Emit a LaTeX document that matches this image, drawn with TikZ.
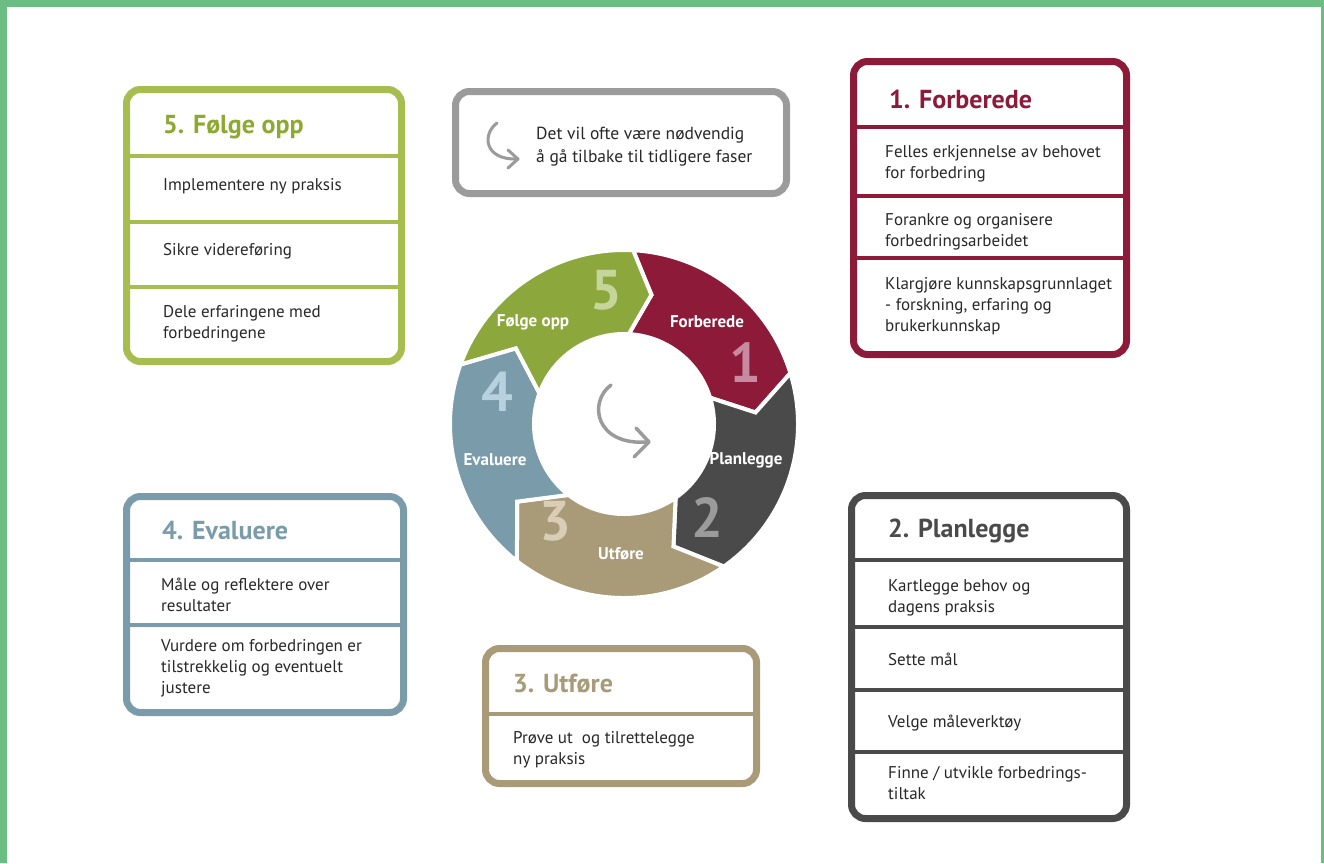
\documentclass[tikz,border=0pt]{standalone}
\usepackage{fontspec}
\setmainfont{PT Sans}
\usetikzlibrary{calc}
\definecolor{framegreen}{RGB}{108,189,131}
\definecolor{olivebox}{RGB}{168,189,80}
\definecolor{olivetext}{RGB}{140,170,50}
\definecolor{olivering}{RGB}{140,168,60}
\definecolor{crimson}{RGB}{140,26,56}
\definecolor{darkgrey}{RGB}{74,74,74}
\definecolor{bluegrey}{RGB}{122,155,170}
\definecolor{tan}{RGB}{169,155,120}
\definecolor{lightgrey}{RGB}{155,155,155}
\definecolor{textgrey}{RGB}{40,40,40}
\definecolor{num1}{RGB}{200,138,160}
\definecolor{num2}{RGB}{155,155,155}
\definecolor{num3}{RGB}{217,205,181}
\definecolor{num4}{RGB}{183,210,222}
\definecolor{num5}{RGB}{198,213,154}
\tikzset{
  panel/.style={draw=#1, line width=7pt, rounded corners=14pt, fill=white, inner sep=0pt},
  divline/.style={draw=#1, line width=3.5pt},
  title/.style={anchor=west, inner sep=0pt, font=\fontsize{26}{30}\selectfont\bfseries, text=#1},
  item/.style={anchor=west, inner sep=0pt, align=left, font=\fontsize{17}{21}\selectfont, text=textgrey},
  ringlabel/.style={inner sep=0pt, font=\fontsize{17}{20}\selectfont\bfseries, text=white},
  ringnum/.style={inner sep=0pt, font=\fontsize{56}{60}\selectfont\bfseries, text=#1},
  icon/.style={draw=lightgrey, line cap=round, line join=round},
}
\newcommand\Ro{174}
\newcommand\Ri{90}
\newcommand\Rm{132}
% #1 start angle, #2 end angle, #3 colour, #4 notch offset, #5 head offset
\newcommand\ringseg[5]{%
  \filldraw[fill=#3, draw=white, line width=4pt, line join=miter]
    ($(c)+({-(#1)}:\Ro)$) arc[start angle={-(#1)}, end angle={-(#2)}, radius=\Ro]
    -- ($(c)+({-((#2)-(#5))}:\Rm)$)
    -- ($(c)+({-(#2)}:\Ri)$) arc[start angle={-(#2)}, end angle={-(#1)}, radius=\Ri]
    -- ($(c)+({-((#1)-(#4))}:\Rm)$) -- cycle;}
\begin{document}
\begin{tikzpicture}[x=1pt,y=-1pt]
\useasboundingbox (0,0) rectangle (1324,863);
\fill[white] (0,0) rectangle (1324,863);
\fill[framegreen] (0,0) rectangle (1324,7);
\fill[framegreen] (0,0) rectangle (7,863);
\fill[framegreen] (1321,0) rectangle (1324,863);

% ---------- Box 5 ----------
\node[panel=olivebox, minimum width=275pt, minimum height=272pt] (b5) at (264,225.5) {};
\draw[divline=olivebox] (126.5,156) -- (401.5,156);
\draw[divline=olivebox] (126.5,222) -- (401.5,222);
\draw[divline=olivebox] (126.5,287) -- (401.5,287);
\node[title=olivetext] (t5) at (163,127) {5. Følge opp};
\node[item] (i51) at (163,186) {Implementere ny praksis};
\node[item] (i52) at (163,251) {Sikre videreføring};
\node[item] (i53) at (163,323.5) {Dele erfaringene med\\forbedringene};

% ---------- Box 1 ----------
\node[panel=crimson, minimum width=273pt, minimum height=293pt] (b1) at (990,208) {};
\draw[divline=crimson] (853.5,127) -- (1126.5,127);
\draw[divline=crimson] (853.5,196) -- (1126.5,196);
\draw[divline=crimson] (853.5,258) -- (1126.5,258);
\node[title=crimson] (t1) at (889,99) {1. Forberede};
\node[item] (i11) at (885,163.5) {Felles erkjennelse av behovet\\for forbedring};
\node[item] (i12) at (885,231.5) {Forankre og organisere\\forbedringsarbeidet};
\node[item] (i13) at (885,306) {Klargjøre kunnskapsgrunnlaget\\- forskning, erfaring og\\brukerkunnskap};

% ---------- Box 2 ----------
\node[panel=darkgrey, minimum width=275pt, minimum height=323pt] (b2) at (989,657) {};
\draw[divline=darkgrey] (851.5,560) -- (1126.5,560);
\draw[divline=darkgrey] (851.5,627) -- (1126.5,627);
\draw[divline=darkgrey] (851.5,690) -- (1126.5,690);
\draw[divline=darkgrey] (851.5,752) -- (1126.5,752);
\node[title=darkgrey] (t2) at (888,531) {2. Planlegge};
\node[item] (i21) at (888,597.5) {Kartlegge behov og\\dagens praksis};
\node[item] (i22) at (888,659) {Sette mål};
\node[item] (i23) at (888,723) {Velge måleverktøy};
\node[item] (i24) at (888,783.5) {Finne / utvikle forbedrings-\\tiltak};

% ---------- Box 4 ----------
\node[panel=bluegrey, minimum width=277pt, minimum height=216pt] (b4) at (265,604.5) {};
\draw[divline=bluegrey] (126.5,560) -- (403.5,560);
\draw[divline=bluegrey] (126.5,625) -- (403.5,625);
\node[title=bluegrey] (t4) at (162,531) {4. Evaluere};
\node[item] (i41) at (161,594.5) {Måle og reflektere over\\resultater};
\node[item] (i42) at (161,668) {Vurdere om forbedringen er\\tilstrekkelig og eventuelt\\justere};

% ---------- Box 3 ----------
\node[panel=tan, minimum width=271pt, minimum height=135pt] (b3) at (621,716) {};
\draw[divline=tan] (485.5,714) -- (756.5,714);
\node[title=tan] (t3) at (513,684) {3. Utføre};
\node[item] (i31) at (513,749.5) {Prøve ut\ \ og tilrettelegge\\ny praksis};

% ---------- Top note box ----------
\node[panel=lightgrey, minimum width=331pt, minimum height=102pt] (bn) at (621,142.5) {};
\node[item, font=\fontsize{17.5}{23}\selectfont] (tn) at (536,146.5) {Det vil ofte være nødvendig\\å gå tilbake til tidligere faser};
\draw[icon, line width=3pt] (497,123) .. controls (482,134) and (484,160) .. (517,159);
\draw[icon, line width=3pt] (508,150) -- (518,159) -- (508,168);

% ---------- Ring ----------
\coordinate (c) at (624,424);
\ringseg{87}{17}{crimson}{9}{12}
\ringseg{17}{-55}{darkgrey}{12}{13}
\ringseg{-55}{-128}{tan}{13}{16}
\ringseg{-128}{-200}{bluegrey}{16}{15}
\ringseg{-200}{-273}{olivering}{15}{9}
\fill[white] (c) circle[radius=88];

\node[ringnum=num1] (n1) at (745,363) {1};
\node[ringnum=num2] (n2) at (707,517) {2};
\node[ringnum=num3] (n3) at (555,521) {3};
\node[ringnum=num4] (n4) at (497,392) {4};
\node[ringnum=num5] (n5) at (606,290) {5};
\node[ringlabel] (l1) at (707,322) {Forberede};
\node[ringlabel] (l2) at (746,460) {Planlegge};
\node[ringlabel] (l3) at (621,554) {Utføre};
\node[ringlabel] (l4) at (495,460) {Evaluere};
\node[ringlabel] (l5) at (533,322) {Følge opp};

\draw[icon, line width=3.5pt] (611,385) .. controls (588,402) and (595,446) .. (648,442);
\draw[icon, line width=3.5pt] (636,428) -- (649,442) -- (634,457);
\end{tikzpicture}
\end{document}
